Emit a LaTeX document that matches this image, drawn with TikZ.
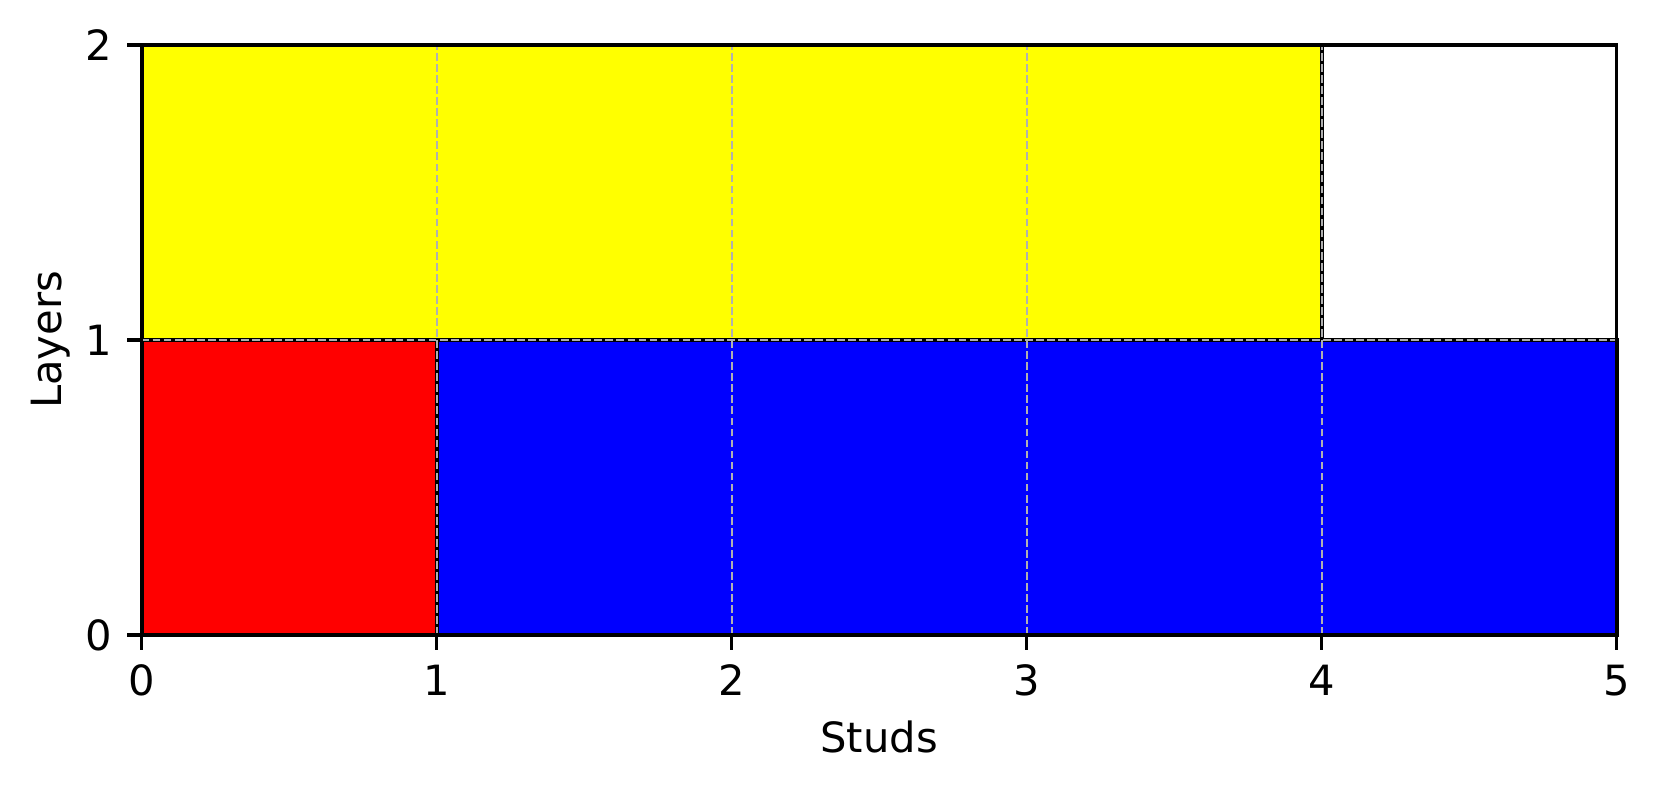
\documentclass[tikz,border=0pt]{standalone}
\usepackage{fontspec}
\setmainfont{DejaVu Sans}
\begin{document}
\begin{tikzpicture}[x=70.8pt,y=70.8pt,
  brick/.style={draw=black,line width=1pt},
  gridline/.style={draw={rgb,255:red,176;green,176;blue,176},line width=0.5pt,dash pattern=on 1.85pt off 0.8pt},
  spine/.style={draw=black,line width=0.8pt},
  tickmark/.style={draw=black,line width=0.8pt},
  ticklabel/.style={font=\fontsize{10pt}{12pt}\selectfont,inner sep=0pt},
  axislabel/.style={font=\fontsize{10pt}{12pt}\selectfont,inner sep=0pt}]
\useasboundingbox (-0.4803,-0.5288) rectangle (5.1468,2.1525);
% bricks
\path[brick,fill={rgb,255:red,255;green,0;blue,0}] (0,0) rectangle (1,1);
\path[brick,fill={rgb,255:red,0;green,0;blue,255}] (1,0) rectangle (5,1);
\path[brick,fill={rgb,255:red,255;green,255;blue,0}] (0,1) rectangle (4,2);
% grid
\foreach \gx in {1,2,3,4} \draw[gridline] (\gx,0) -- (\gx,2);
\draw[gridline] (0,1) -- (5,1);
% spines
\draw[spine] (0,0) rectangle (5,2);
% x ticks
\foreach \gx in {0,1,2,3,4,5} {
  \draw[tickmark] (\gx,0) -- (\gx,-0.0494);
  \node[ticklabel,anchor=north] (xt\gx) at (\gx,-0.0988) {\gx};
}
% y ticks
\foreach \gy in {0,1,2} {
  \draw[tickmark] (0,\gy) -- (-0.0494,\gy);
  \node[ticklabel,anchor=east] (yt\gy) at (-0.0988,\gy) {\gy};
}
\node[axislabel,anchor=base] (xlabel) at (2.5,-0.3985) {Studs};
\node[axislabel,rotate=90,anchor=center] (ylabel) at (-0.310,1.0) {Layers};
\end{tikzpicture}
\end{document}
